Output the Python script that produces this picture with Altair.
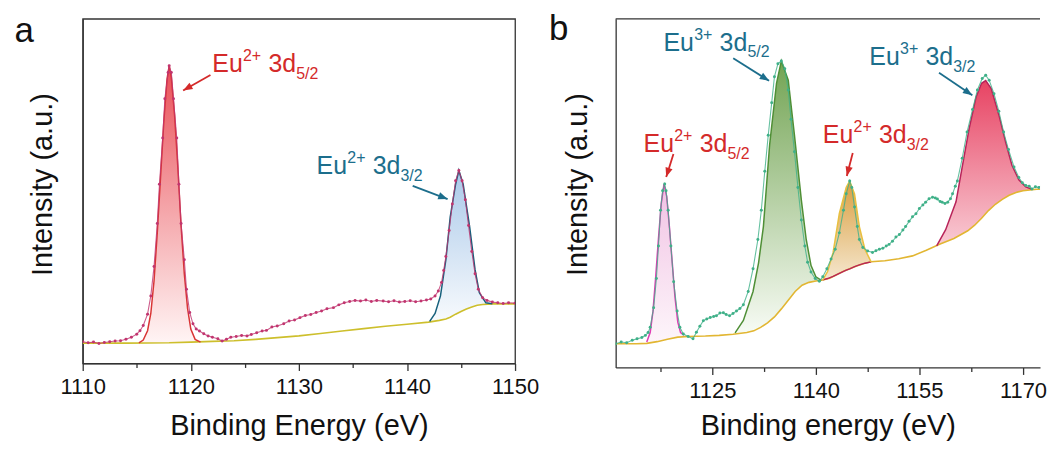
import math
import altair as alt
import pandas as pd

FONT = "Liberation Sans"
RED = "#d42a2a"
TEAL = "#1c6e8c"

# ---------------- panel a : measured spectrum ----------------
a_energy = [1110.0, 1110.5, 1111.0, 1111.5, 1112.0, 1112.5, 1113.0, 1113.5, 1114.0, 1114.5,
            1115.0, 1115.3, 1115.6, 1116.0, 1116.3, 1116.6, 1116.9, 1117.1, 1117.4, 1117.6,
            1117.9, 1118.0, 1118.2, 1118.4, 1118.7, 1118.9, 1119.1, 1119.4, 1119.6, 1119.9,
            1120.2, 1120.5, 1120.8, 1121.2, 1121.6, 1122.0, 1122.5, 1122.9, 1123.3, 1123.7,
            1124.2, 1124.7, 1125.2, 1125.6, 1126.1, 1126.6, 1127.0, 1127.5, 1128.0, 1128.6,
            1129.1, 1129.6, 1130.1, 1130.6, 1131.1, 1131.6, 1132.1, 1132.6, 1133.2, 1133.7,
            1134.2, 1134.7, 1135.2, 1135.7, 1136.2, 1136.7, 1137.2, 1137.8, 1138.3, 1138.8,
            1139.3, 1139.8, 1140.3, 1140.8, 1141.3, 1141.8, 1142.2, 1142.6, 1142.9, 1143.2,
            1143.4, 1143.6, 1143.9, 1144.2, 1144.5, 1144.8, 1145.1, 1145.4, 1145.7, 1146.0,
            1146.3, 1146.6, 1147.0, 1147.4, 1147.9, 1148.4, 1148.9, 1149.4, 1150.0]
a_counts = [6.3, 6.0, 6.2, 5.8, 6.1, 6.3, 6.5, 6.6, 7.0, 7.6,
            8.5, 9.5, 11.0, 14.3, 19.6, 28.1, 40.6, 52.0, 65.4, 76.8,
            84.4, 86.4, 84.4, 76.8, 65.4, 52.0, 40.6, 30.1, 21.5, 14.8,
            11.5, 10.0, 9.4, 8.6, 8.0, 7.6, 7.2, 6.5, 7.0, 7.6,
            7.8, 8.1, 8.0, 8.4, 8.9, 9.4, 9.6, 10.6, 10.9, 11.5,
            12.3, 12.6, 13.3, 13.9, 14.2, 14.8, 15.2, 15.9, 16.2, 17.0,
            17.6, 18.0, 18.3, 18.1, 18.4, 18.0, 18.3, 18.1, 17.9, 18.2,
            17.8, 18.0, 18.2, 17.9, 18.1, 18.4, 18.7, 19.6, 21.0, 23.5,
            27.0, 31.0, 38.6, 46.3, 53.0, 56.0, 53.0, 47.5, 40.0, 32.5,
            26.0, 21.5, 19.1, 18.3, 17.8, 17.6, 17.4, 17.6, 17.5]

a_bg_energy = [1110, 1112, 1114, 1116, 1118, 1120, 1122, 1124, 1126, 1128, 1130, 1132, 1134,
               1136, 1138, 1140, 1142, 1143, 1143.6, 1144, 1144.5, 1145, 1145.5, 1146, 1146.5,
               1147, 1148, 1150]
a_bg = [5.9, 5.9, 5.9, 5.95, 6.0, 6.2, 6.4, 6.6, 7.0, 7.5, 8.0, 8.7, 9.4,
        10.1, 10.8, 11.4, 12.0, 12.5, 12.9, 13.4, 14.3, 15.1, 15.8, 16.4, 16.9,
        17.1, 17.3, 17.3]

# Eu2+ 3d5/2 fitted component (panel a)
a_p1_energy = [1115.2, 1115.6, 1116.0, 1116.3, 1116.6, 1116.9, 1117.2, 1117.5, 1117.8, 1118.0,
               1118.2, 1118.5, 1118.8, 1119.1, 1119.4, 1119.7, 1120.0, 1120.4, 1120.9]
a_p1_fit = [6.0, 6.8, 9.5, 14.5, 24.0, 38.0, 54.0, 70.0, 82.5, 86.4,
            83.0, 72.0, 57.0, 40.0, 26.0, 16.0, 10.0, 7.0, 6.2]
a_p1_bg = [5.95, 5.95, 5.95, 5.95, 5.95, 6.0, 6.0, 6.0, 6.0, 6.0,
           6.0, 6.0, 6.05, 6.05, 6.1, 6.1, 6.2, 6.2, 6.25]

# Eu2+ 3d3/2 fitted component (panel a)
a_p2_energy = [1142.1, 1142.6, 1143.1, 1143.6, 1144.0, 1144.5, 1144.8, 1145.2, 1145.8, 1146.3,
               1146.7, 1147.3, 1147.9]
a_p2_fit = [12.2, 14.5, 19.6, 30.1, 42.5, 52.0, 56.0, 52.0, 39.6, 27.2, 20.5, 17.6, 17.3]
a_p2_bg = [12.0, 12.3, 12.6, 12.9, 13.4, 14.3, 14.8, 15.4, 16.2, 16.7, 17.0, 17.2, 17.3]

# ---------------- panel b : measured spectrum ----------------
b_energy = [1111.0, 1111.8, 1112.6, 1113.4, 1114.1, 1114.8, 1115.3, 1115.7, 1116.0, 1116.5,
            1116.9, 1117.2, 1117.5, 1117.8, 1118.1, 1118.3, 1118.6, 1119.0, 1119.4, 1119.9,
            1120.3, 1120.8, 1121.5, 1122.2, 1122.7, 1123.2, 1123.7, 1124.2, 1124.7, 1125.2,
            1125.6, 1126.1, 1126.6, 1127.0, 1127.5, 1128.0, 1128.5, 1129.0, 1129.5, 1130.2,
            1130.9, 1131.6, 1132.1, 1132.6, 1133.1, 1133.6, 1134.0, 1134.5, 1135.0, 1135.5,
            1136.0, 1136.4, 1136.9, 1137.4, 1137.9, 1138.4, 1138.8, 1139.3, 1139.9, 1140.5,
            1141.0, 1141.6, 1142.2, 1142.8, 1143.4, 1144.0, 1144.4, 1144.9, 1145.2, 1145.6,
            1146.0, 1146.3, 1146.8, 1147.5, 1148.2, 1148.7, 1149.2, 1149.7, 1150.2, 1150.6,
            1151.1, 1151.6, 1152.1, 1152.6, 1153.0, 1153.5, 1154.0, 1154.5, 1155.0, 1155.5,
            1155.9, 1156.4, 1156.9, 1157.3, 1157.6, 1158.0, 1158.3, 1158.7, 1159.1, 1159.5,
            1159.8, 1160.2, 1160.5, 1161.2, 1161.9, 1162.7, 1163.4, 1164.1, 1164.6, 1165.1,
            1165.8, 1166.5, 1167.2, 1167.9, 1168.7, 1169.4, 1169.9, 1170.4, 1170.9, 1171.3,
            1171.8, 1172.3, 1172.8, 1173.2, 1173.7, 1174.3]
b_counts = [6.8, 7.3, 7.1, 7.8, 8.2, 8.6, 9.2, 10.0, 11.5, 17.1,
            25.5, 34.8, 45.1, 50.7, 52.6, 50.7, 45.1, 34.8, 24.6, 16.2,
            11.5, 9.6, 8.9, 8.2, 10.1, 11.8, 13.4, 13.9, 14.3, 14.6,
            14.8, 15.6, 15.7, 15.2, 14.8, 15.5, 16.2, 16.9, 18.0, 21.8,
            28.3, 36.7, 45.1, 56.3, 66.6, 75.9, 83.4, 87.1, 87.9, 85.7,
            79.6, 71.2, 61.9, 51.6, 42.3, 34.8, 30.2, 27.4, 25.5, 24.7,
            26.0, 28.3, 31.1, 33.9, 38.6, 45.1, 49.8, 53.5, 51.6, 46.0,
            40.4, 36.7, 34.4, 33.4, 33.0, 33.5, 33.9, 34.2, 34.8, 35.3,
            36.2, 37.4, 38.1, 39.4, 40.4, 41.9, 43.2, 44.1, 45.6, 46.6,
            47.4, 48.4, 48.8, 48.6, 48.3, 47.6, 47.4, 47.0, 47.4, 48.4,
            49.8, 52.0, 53.5, 60.0, 67.5, 74.0, 79.6, 82.9, 83.8, 82.4,
            78.5, 73.5, 67.5, 62.5, 57.5, 54.5, 53.0, 52.2, 52.0, 51.2,
            51.8, 51.6, 52.3, 52.1, 51.4, 51.6]

b_bg_energy = [1111, 1114, 1115.5, 1117, 1118.5, 1120, 1121.5, 1124, 1126, 1128, 1130, 1131,
               1132, 1133, 1134, 1135, 1136, 1137, 1138, 1139, 1140, 1141, 1142, 1143, 1144,
               1145, 1146, 1147, 1148, 1150, 1152, 1154, 1156, 1158, 1160, 1162, 1163, 1164,
               1165, 1166, 1167, 1168, 1169, 1170, 1172, 1174.3]
b_bg = [6.8, 6.8, 6.9, 7.4, 8.1, 8.7, 8.9, 9.0, 9.2, 9.5, 10.0, 10.5,
        11.5, 12.8, 14.5, 16.8, 19.3, 21.8, 23.6, 24.4, 24.8, 25.1, 25.6, 26.6, 27.6,
        28.4, 29.2, 29.8, 30.3, 30.6, 31.2, 32.0, 33.6, 35.4, 37.0, 39.2, 40.8, 42.8,
        45.0, 46.8, 48.2, 49.4, 50.2, 50.7, 51.1, 51.2]

# Eu2+ 3d5/2 (panel b)
b_p1_energy = [1115.5, 1116.0, 1116.4, 1116.8, 1117.2, 1117.6, 1118.0, 1118.4, 1118.8, 1119.2,
               1119.6, 1120.0, 1120.4, 1120.9]
b_p1_fit = [7.3, 10.0, 16.0, 26.0, 37.0, 47.0, 52.6, 49.0, 40.0, 30.0, 20.0, 13.0, 10.0, 9.3]
b_p1_bg = [6.9, 7.0, 7.2, 7.3, 7.5, 7.7, 7.9, 8.1, 8.3, 8.5, 8.6, 8.7, 8.8, 8.9]
# Eu3+ 3d5/2 (panel b)
b_p2_energy = [1128.3, 1129.5, 1130.9, 1131.7, 1132.4, 1133.3, 1134.3, 1135.0, 1136.0, 1136.9,
               1137.9, 1138.6, 1139.3, 1140.0, 1140.8]
b_p2_fit = [9.9, 13.5, 21.8, 30.0, 40.4, 63.8, 81.5, 87.9, 82.4, 66.6, 47.9, 36.7, 29.2, 26.0, 25.0]
b_p2_bg = [9.6, 9.9, 10.5, 11.2, 12.0, 13.2, 15.0, 16.8, 19.3, 21.6, 23.6, 24.1, 24.5, 24.8, 25.0]
# Eu2+ 3d3/2 (panel b)
b_p3_energy = [1141.0, 1141.7, 1142.5, 1143.4, 1144.4, 1144.9, 1145.6, 1146.3, 1147.1, 1148.0]
b_p3_fit = [25.1, 27.5, 33.0, 44.2, 51.7, 53.5, 49.8, 40.4, 33.9, 30.3]
b_p3_bg = [25.1, 25.5, 26.1, 27.0, 27.9, 28.3, 28.9, 29.4, 29.9, 30.3]
# Eu3+ 3d3/2 (panel b)
b_p4_energy = [1157.5, 1158.8, 1160.3, 1161.2, 1162.2, 1163.2, 1164.0, 1164.6, 1165.4, 1166.5,
               1167.5, 1168.4, 1169.4, 1170.4, 1171.3]
b_p4_fit = [34.9, 39.5, 47.5, 57.5, 68.5, 77.5, 81.5, 82.3, 80.0, 72.5, 64.5, 58.0, 53.8, 51.8, 51.1]
b_p4_bg = [34.9, 36.1, 37.3, 38.2, 39.5, 41.2, 42.8, 44.1, 45.7, 47.5, 48.8, 49.7, 50.4, 50.8, 51.0]

# ---------------- annotations ----------------
a_lbl_energy = [1121.99, 1131.64]
a_lbl_int = [84.6, 54.9]
a_lbl_sup = ["2+", "2+"]
a_lbl_sub = ["5/2", "3/2"]
a_lbl_color = [RED, TEAL]
a_arr = [  # start energy, start intensity, tip energy, tip intensity, colour
    (1121.82, 83.7, 1119.29, 79.2, RED),
    (1140.53, 51.5, 1143.76, 47.7, TEAL),
]
b_lbl_energy = [1117.93, 1115.04, 1141.01, 1147.75]
b_lbl_int = [90.9, 61.9, 64.3, 86.7]
b_lbl_sup = ["3+", "2+", "2+", "3+"]
b_lbl_sub = ["5/2", "5/2", "3/2", "3/2"]
b_lbl_color = [TEAL, RED, RED, TEAL]
b_arr = [
    (1128.03, 88.7, 1133.22, 82.2, TEAL),
    (1119.37, 61.2, 1118.32, 54.6, RED),
    (1145.34, 61.5, 1144.48, 54.9, RED),
    (1157.84, 84.5, 1162.66, 78.1, TEAL),
]

a_ticks = [1110, 1115, 1120, 1125, 1130, 1135, 1140, 1145, 1150]
b_ticks = [1117.5, 1125, 1132.5, 1140, 1147.5, 1155, 1162.5, 1170]

ARROW_SHAPE = "M0,0 L0.7,1.8 L-0.7,1.8 Z"
FRAME = "#333"


def grad(top, bottom):
    return alt.Gradient(gradient="linear", x1=0, x2=0, y1=0, y2=1,
                        stops=[alt.GradientStop(color=top, offset=0),
                               alt.GradientStop(color=bottom, offset=1)])


def panel(W, H, xdom, ticks, major_test, xtitle, title_pad, title_y, xtitle_pad,
          energy, counts, dot_color, bg_e, bg_v, peaks, labels, arrows, letter,
          letter_dx, letter_dy, bg_color, under_lines=(), open_right=False):
    xs = alt.Scale(domain=xdom, nice=False, zero=False)
    ys = alt.Scale(domain=[0, 100], nice=False, zero=False)
    xax = alt.Axis(title=xtitle, values=ticks, format="d",
                   labelExpr=f"({major_test}) ? datum.label : ''",
                   tickSize={"condition": {"test": major_test, "value": 7}, "value": 4},
                   labelPadding=6, titlePadding=xtitle_pad, labelOverlap=False,
                   labelFlush=False, grid=False)
    yax = alt.Axis(title="Intensity (a.u.)", ticks=False, labels=False, grid=False,
                   titlePadding=title_pad, titleY=title_y)
    X = lambda f: alt.X(f, type="quantitative", scale=xs, axis=xax)
    Y = lambda f: alt.Y(f, type="quantitative", scale=ys, axis=yax)

    layers = []
    for (pe, pf, pb, line_col, top, bottom) in peaks:
        df = pd.DataFrame({"e": pe, "fit": pf, "bg": pb})
        layers.append(alt.Chart(df).mark_area(color=grad(top, bottom), opacity=0.95, clip=True)
                      .encode(x=X("e"), y=Y("fit"), y2="bg"))
    bgdf = pd.DataFrame({"e": bg_e, "v": bg_v})
    layers.append(alt.Chart(bgdf).mark_line(color=bg_color, strokeWidth=1.6, clip=True)
                  .encode(x=X("e"), y=Y("v")))
    for (ue, uv, ucol) in under_lines:
        udf = pd.DataFrame({"e": ue, "v": uv})
        layers.append(alt.Chart(udf).mark_line(color=ucol, strokeWidth=1.4, clip=True)
                      .encode(x=X("e"), y=Y("v")))
    for (pe, pf, pb, line_col, top, bottom) in peaks:
        df = pd.DataFrame({"e": pe, "fit": pf})
        layers.append(alt.Chart(df).mark_line(color=line_col, strokeWidth=1.5, clip=True)
                      .encode(x=X("e"), y=Y("fit")))
    ddf = pd.DataFrame({"e": energy, "v": counts})
    layers.append(alt.Chart(ddf).mark_line(color=dot_color, strokeWidth=1.1, opacity=0.8, clip=True)
                  .encode(x=X("e"), y=Y("v")))
    layers.append(alt.Chart(ddf).mark_circle(color=dot_color, size=9, opacity=1, clip=True)
                  .encode(x=X("e"), y=Y("v")))

    # arrows
    sx = W / (xdom[1] - xdom[0])
    sy = H / 100.0
    rows = []
    for (e1, v1, e2, v2, c) in arrows:
        dxp = (e2 - e1) * sx
        dyp = -(v2 - v1) * sy
        ang = math.degrees(math.atan2(dxp, -dyp)) % 360
        rows.append({"e1": e1, "v1": v1, "e2": e2, "v2": v2, "c": c, "ang": ang})
    adf = pd.DataFrame(rows)
    layers.append(alt.Chart(adf).mark_rule(strokeWidth=1.8)
                  .encode(x=X("e1"), y=Y("v1"), x2="e2", y2="v2",
                          color=alt.Color("c:N", scale=None)))
    layers.append(alt.Chart(adf).mark_point(shape=ARROW_SHAPE, filled=True, size=110, opacity=1)
                  .encode(x=X("e2"), y=Y("v2"), angle=alt.Angle("ang:Q", scale=None),
                          color=alt.Color("c:N", scale=None)))

    # labels  Eu^{2+} 3d_{5/2}
    le, lv, lsup, lsub, lcol = labels
    ldf = pd.DataFrame({"e": le, "v": lv, "sup": lsup, "sub": lsub, "c": lcol})
    base = alt.Chart(ldf)
    common = dict(align="left", baseline="alphabetic", font=FONT)
    enc = dict(x=X("e"), y=Y("v"), color=alt.Color("c:N", scale=None))
    layers.append(base.mark_text(fontSize=25, **common).encode(text=alt.value("Eu"), **enc))
    layers.append(base.mark_text(fontSize=16, dx=30.8, dy=-11, **common).encode(text="sup:N", **enc))
    layers.append(base.mark_text(fontSize=25, dx=56.3, **common).encode(text=alt.value("3d"), **enc))
    layers.append(base.mark_text(fontSize=16, dx=84.2, dy=7, **common).encode(text="sub:N", **enc))

    one = pd.DataFrame({"t": [letter]})
    if open_right:
        # frame continues past the right edge of the figure: draw only the top edge
        layers.append(alt.Chart(one).mark_rule(color=FRAME, strokeWidth=1.3)
                      .encode(x=alt.value(0), x2=alt.value(W), y=alt.value(0)))

    # panel letter
    layers.append(alt.Chart(one).mark_text(
        fontSize=35, align="left", baseline="alphabetic", font=FONT, color="#111")
        .encode(text="t:N", x=alt.value(letter_dx), y=alt.value(letter_dy)))

    ch = alt.layer(*layers).properties(width=W, height=H)
    if open_right:
        ch = ch.properties(view=alt.ViewBackground(stroke="transparent"))
    return ch


pa = panel(434, 346, [1110, 1150], a_ticks, "datum.value % 10 === 0", "Binding Energy (eV)",
           25, 166, 14, a_energy, a_counts, "#c1356f", a_bg_energy, a_bg,
           [(a_p1_energy, a_p1_fit, a_p1_bg, "#d93535", "#e8464f", "#fff4f4"),
            (a_p2_energy, a_p2_fit, a_p2_bg, "#17607c", "#a6c6e8", "#f7fafd")],
           (a_lbl_energy, a_lbl_int, a_lbl_sup, a_lbl_sub, a_lbl_color), a_arr,
           "a", -68.4, 23.3, "#cdbf2c")

pb = panel(426, 350, [1111, 1172.47], b_ticks, "(datum.value - 1125) % 15 === 0",
           "Binding energy (eV)", 23, 166, 10, b_energy, b_counts, "#3fb088", b_bg_energy, b_bg,
           [(b_p1_energy, b_p1_fit, b_p1_bg, "#e03cb4", "#f0bfe2", "#fdf5fa"),
            (b_p2_energy, b_p2_fit, b_p2_bg, "#4f8f36", "#6b9f4a", "#f7fbf4"),
            (b_p3_energy, b_p3_fit, b_p3_bg, "#e8c040", "#d89a36", "#f5e6cc"),
            (b_p4_energy, b_p4_fit, b_p4_bg, "#b8245a", "#e6395a", "#f8c8d2")],
           (b_lbl_energy, b_lbl_int, b_lbl_sup, b_lbl_sub, b_lbl_color), b_arr,
           "b", -67, 21, "#e2b632",
           under_lines=[(b_p3_energy, b_p3_bg, "#b8245a")], open_right=True)

chart = (alt.hconcat(pa, pb, spacing=8)
         .properties(padding={"left": 5, "top": 2, "right": 0, "bottom": 0})
         .configure_view(stroke=FRAME, strokeWidth=1.3)
         .configure_axis(labelFont=FONT, titleFont=FONT, labelFontSize=22, titleFontSize=29,
                         labelColor="#111", titleColor="#111", titleFontWeight="normal",
                         domainColor=FRAME, tickColor=FRAME, domainWidth=1.3, tickWidth=1.3))

chart.save("out.html", embed_options={"renderer": "svg", "actions": False})
